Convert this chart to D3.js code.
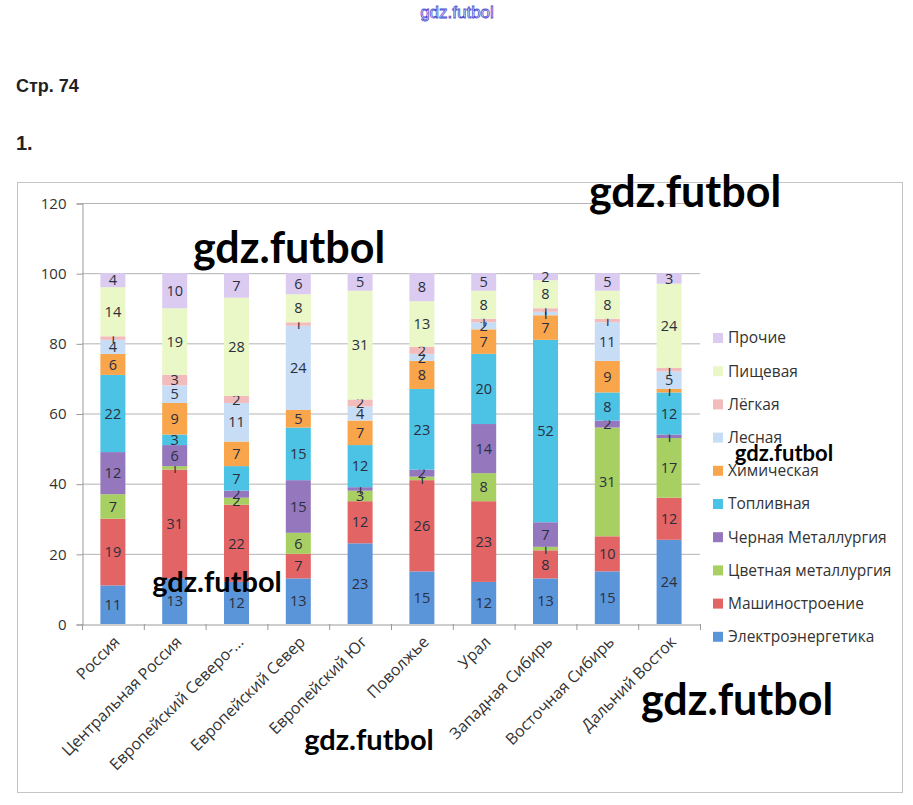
<!DOCTYPE html>
<html>
<head>
<meta charset="utf-8">
<script src="https://cdn.jsdelivr.net/npm/d3@7"></script>
<style>
body { margin: 0; background: #fff; }
</style>
</head>
<body>
<script>
// регионы
let regions = ["Россия", "Центральная Россия", "Европейский Северо-...", "Европейский Север", "Европейский Юг",
    "Поволжье", "Урал", "Западная Сибирь", "Восточная Сибирь", "Дальний Восток"];

let branches = ["Электроэнергетика", "Машиностроение", "Цветная металлургия", "Черная Металлургия", "Топливная",
    "Химическая", "Лесная", "Лёгкая", "Пищевая", "Прочие"];

// значения по отраслям (в порядке regions)
let electro  = [11, 13, 12, 13, 23, 15, 12, 13, 15, 24];
let mash     = [19, 31, 22,  7, 12, 26, 23,  8, 10, 12];
let color_m  = [ 7,  1,  2,  6,  3,  1,  8,  1, 31, 17];
let black_m  = [12,  6,  2, 15,  1,  2, 14,  7,  2,  1];
let fuel     = [22,  3,  7, 15, 12, 23, 20, 52,  8, 12];
let chem     = [ 6,  9,  7,  5,  7,  8,  7,  7,  9,  1];
let forest   = [ 4,  5, 11, 24,  4,  2,  2,  1, 11,  5];
let light    = [ 1,  3,  2,  1,  2,  2,  1,  1,  1,  1];
let food     = [14, 19, 28,  8, 31, 13,  8,  8,  8, 24];
let other    = [ 4, 10,  7,  6,  5,  8,  5,  2,  5,  3];

let yTicks = [0, 20, 40, 60, 80, 100, 120];

let colors = ["#5b95d9", "#e36464", "#a8cf62", "#9577be", "#4cc2e4", "#f9a54b", "#c7dcf5", "#f3bcbc", "#eaf7c6", "#dccbf1"];

let series = [electro, mash, color_m, black_m, fuel, chem, forest, light, food, other];

let width = 913,
    height = 805,
    plot = {left: 82, right: 700, top: 203, bottom: 624};

let svg = d3.select("body").append("svg").attr("width", width).attr("height", height)
    .style("font-family", "'Open Sans', sans-serif");

svg.append("rect").attr("width", width).attr("height", height).attr("fill", "#fff");

// шапка
svg.append("text").attr("x", 457).attr("y", 18).attr("text-anchor", "middle")
    .attr("font-family", "Arial, 'Liberation Sans', sans-serif").attr("font-size", 17)
    .attr("fill", "#fff").attr("stroke", "#4a4ad0").attr("stroke-width", 0.8)
    .text("gdz.futbol");
svg.append("text").attr("x", 16).attr("y", 92)
    .attr("font-family", "Arial, 'Liberation Sans', sans-serif").attr("font-size", 18).attr("font-weight", "bold")
    .attr("fill", "#222").text("Стр. 74");
svg.append("text").attr("x", 16).attr("y", 150)
    .attr("font-family", "Arial, 'Liberation Sans', sans-serif").attr("font-size", 20).attr("font-weight", "bold")
    .attr("fill", "#222").text("1.");

// рамка диаграммы
svg.append("rect").attr("x", 17.5).attr("y", 182.5).attr("width", 885).attr("height", 610)
    .attr("fill", "none").attr("stroke", "#c4c4c4");

let table = regions.map(function(r, i) {
    let row = {region: r};
    branches.forEach(function(b, j) { row[b] = series[j][i]; });
    return row;
});

let stack = d3.stack().keys(branches)(table);

let x = d3.scaleBand().domain(regions).range([plot.left, plot.right]);
let y = d3.scaleLinear().domain([0, 120]).range([plot.bottom, plot.top]);

let barW = 25;

// сетка
svg.append("g").selectAll("line").data(yTicks.slice(1)).enter().append("line")
    .attr("x1", plot.left).attr("x2", plot.right)
    .attr("y1", function(d) { return y(d) + 0.5; }).attr("y2", function(d) { return y(d) + 0.5; })
    .attr("stroke", "#b4b4b4");

// ось Y
let yAxis = svg.append("g").attr("transform", "translate(" + (plot.left + 0.5) + ",0.5)")
    .call(d3.axisLeft(y).tickValues(yTicks).tickSize(6).tickPadding(10));
yAxis.select(".domain").attr("stroke", "#9a9a9a");
yAxis.selectAll(".tick line").attr("stroke", "#9a9a9a");
yAxis.selectAll("text").attr("font-size", 15).attr("fill", "#333").attr("font-family", "'Open Sans', sans-serif");

// ось X
let xAxis = svg.append("g").attr("transform", "translate(0," + (plot.bottom + 0.5) + ")")
    .call(d3.axisBottom(x).tickSize(0).tickFormat(""));
xAxis.select(".domain").attr("stroke", "#9a9a9a");
svg.append("g").selectAll("line").data(regions.concat([null])).enter().append("line")
    .attr("x1", function(d, i) { return plot.left + i * x.step() + 0.5; })
    .attr("x2", function(d, i) { return plot.left + i * x.step() + 0.5; })
    .attr("y1", plot.bottom).attr("y2", plot.bottom + 6)
    .attr("stroke", "#9a9a9a");

svg.append("g").selectAll("text").data(regions).enter().append("text")
    .attr("transform", function(d) {
        return "translate(" + (x(d) + x.bandwidth() / 2 + 4) + "," + (plot.bottom + 15) + ") rotate(-45)";
    })
    .attr("text-anchor", "end").attr("dy", "0.35em")
    .attr("font-size", 16).attr("fill", "#333")
    .text(function(d) { return d; });

// столбцы
let layers = svg.append("g").selectAll("g").data(stack).enter().append("g")
    .attr("fill", function(d, i) { return colors[i]; });

layers.selectAll("rect").data(function(d) { return d; }).enter().append("rect")
    .attr("x", function(d) { return x(d.data.region) + x.bandwidth() / 2 - barW / 2; })
    .attr("y", function(d) { return y(d[1]); })
    .attr("width", barW)
    .attr("height", function(d) { return y(d[0]) - y(d[1]); });

layers.selectAll("text").data(function(d) { return d; }).enter().append("text")
    .attr("x", function(d) { return x(d.data.region) + x.bandwidth() / 2; })
    .attr("y", function(d) { return (y(d[0]) + y(d[1])) / 2; })
    .attr("dy", "0.36em").attr("text-anchor", "middle")
    .attr("font-size", 14.5).attr("fill", "#2a2f3e")
    .text(function(d) { return d[1] - d[0]; });

// легенда
let legend = svg.append("g").selectAll("g").data(branches.slice().reverse()).enter().append("g")
    .attr("transform", function(d, i) { return "translate(713," + (338 + i * 33.2) + ")"; });
legend.append("rect").attr("x", 0).attr("y", -5).attr("width", 10).attr("height", 10)
    .attr("fill", function(d) { return colors[branches.indexOf(d)]; });
legend.append("text").attr("x", 15).attr("dy", "0.35em")
    .attr("font-size", 15.5).attr("fill", "#333")
    .text(function(d) { return d; });

// водяные знаки
let marks = [
    {x: 289, y: 263, s: 43}, {x: 685, y: 207, s: 43}, {x: 217, y: 592, s: 29},
    {x: 784, y: 461, s: 22}, {x: 369, y: 750, s: 29}, {x: 737, y: 715, s: 43}
];
svg.append("g").selectAll("text").data(marks).enter().append("text")
    .attr("x", function(d) { return d.x; }).attr("y", function(d) { return d.y; })
    .attr("text-anchor", "middle").attr("font-family", "Lato, sans-serif").attr("font-weight", "bold")
    .attr("font-size", function(d) { return d.s; }).attr("fill", "#000")
    .text("gdz.futbol");
</script>
</body>
</html>
